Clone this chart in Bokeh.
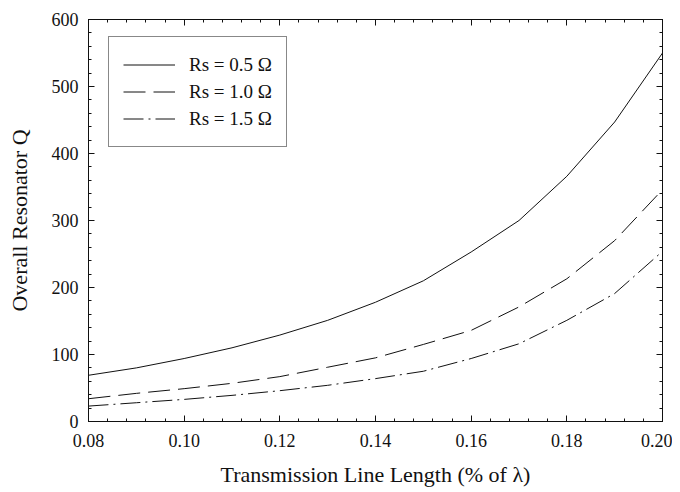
from bokeh.plotting import figure
from bokeh.models import (Range1d, LinearAxis, SingleIntervalTicker, PrintfTickFormatter,
                          CustomJSTickFormatter)
from bokeh.embed import file_html
from bokeh.resources import INLINE

# Data
x_len = [0.08, 0.09, 0.10, 0.11, 0.12, 0.13, 0.14, 0.15, 0.16, 0.17, 0.18, 0.19, 0.20]
q_rs05 = [69, 80, 94, 110, 129, 151, 178, 210, 253, 300, 366, 447, 550]
q_rs10 = [34, 42, 49, 57, 67, 81, 95, 115, 136, 171, 213, 270, 346]
q_rs15 = [23, 28, 33, 39, 46, 54, 64, 75, 94, 116, 151, 191, 254]
series_labels = ["Rs = 0.5 \u03a9", "Rs = 1.0 \u03a9", "Rs = 1.5 \u03a9"]

FONT = "Liberation Serif"
INK = "#111111"

p = figure(width=672, height=492, output_backend="svg", toolbar_location=None,
           x_range=Range1d(0.08, 0.20), y_range=Range1d(0, 600),
           x_axis_location=None, y_axis_location=None,
           min_border_left=88, min_border_right=10, min_border_top=19, min_border_bottom=71)

p.background_fill_color = "white"
p.border_fill_color = "white"
p.outline_line_color = INK
p.outline_line_width = 1
p.xgrid.visible = False
p.ygrid.visible = False


def make_axis(interval, labels=True, fmt=None, label_text=None):
    ax = LinearAxis(ticker=SingleIntervalTicker(interval=interval, num_minor_ticks=5))
    ax.axis_line_color = INK
    ax.major_tick_line_color = INK
    ax.minor_tick_line_color = INK
    ax.major_tick_in = 6
    ax.major_tick_out = 0
    ax.minor_tick_in = 3
    ax.minor_tick_out = 0
    if labels:
        ax.formatter = fmt
        ax.major_label_text_font = FONT
        ax.major_label_text_font_size = "18px"
        ax.major_label_text_color = INK
    else:
        ax.formatter = CustomJSTickFormatter(code="return '';")
        ax.major_label_text_font_size = "8px"
        ax.major_label_standoff = 0
    if label_text is not None:
        ax.axis_label = label_text
        ax.axis_label_text_font = FONT
        ax.axis_label_text_font_size = "22px"
        ax.axis_label_text_font_style = "normal"
        ax.axis_label_text_color = INK
    return ax


xb = make_axis(0.02, True, PrintfTickFormatter(format="%.2f"),
               "Transmission Line Length (% of \u03bb)")
xb.major_label_standoff = 12
xb.axis_label_standoff = 12
p.add_layout(xb, "below")

yl = make_axis(100, True, PrintfTickFormatter(format="%d"), "Overall Resonator Q")
yl.major_label_standoff = 10
yl.axis_label_standoff = 17
p.add_layout(yl, "left")

xt = make_axis(0.02, False)
p.add_layout(xt, "above")
yr = make_axis(100, False)
p.add_layout(yr, "right")

p.line(x_len, q_rs05, line_color=INK, line_width=1, legend_label=series_labels[0])
p.line(x_len, q_rs10, line_color=INK, line_width=1, line_dash="22 8",
       legend_label=series_labels[1])
p.line(x_len, q_rs15, line_color=INK, line_width=1, line_dash="20 5 2 5",
       legend_label=series_labels[2])

lg = p.legend[0]
lg.location = (20, 274)
lg.border_line_color = INK
lg.border_line_width = 1
lg.background_fill_color = "white"
lg.background_fill_alpha = 1
lg.padding = 14
lg.spacing = 0
lg.margin = 0
lg.glyph_width = 52
lg.glyph_height = 27
lg.label_height = 27
lg.label_standoff = 14
lg.label_text_font = FONT
lg.label_text_font_size = "19px"
lg.label_text_color = INK

open("out.html", "w").write(file_html(p, INLINE))
